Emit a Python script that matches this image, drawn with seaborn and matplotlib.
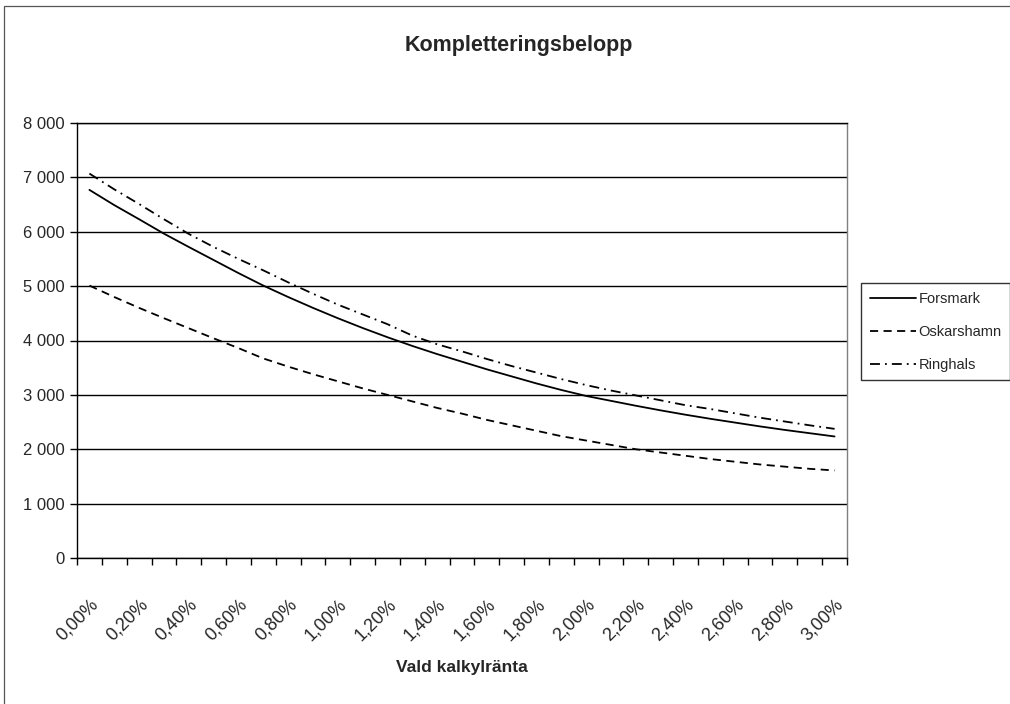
import pandas as pd
import seaborn as sns
import matplotlib.pyplot as plt
from matplotlib.patches import Rectangle
from matplotlib.ticker import FuncFormatter, FixedLocator

# Vald kalkylränta (x categories)
kalkylranta = ["0,00%", "0,10%", "0,20%", "0,30%", "0,40%", "0,50%", "0,60%", "0,70%",
               "0,80%", "0,90%", "1,00%", "1,10%", "1,20%", "1,30%", "1,40%", "1,50%",
               "1,60%", "1,70%", "1,80%", "1,90%", "2,00%", "2,10%", "2,20%", "2,30%",
               "2,40%", "2,50%", "2,60%", "2,70%", "2,80%", "2,90%", "3,00%"]

# Kompletteringsbelopp per plant
forsmark = [6770, 6490, 6230, 5965, 5720, 5480, 5240, 5010, 4800, 4600, 4410,
            4230, 4060, 3900, 3750, 3610, 3470, 3340, 3210, 3090, 2980,
            2890, 2800, 2715, 2635, 2560, 2490, 2420, 2355, 2295, 2235]
oskarshamn = [5010, 4800, 4600, 4410, 4225, 4040, 3860, 3670, 3520, 3380, 3250,
              3120, 3000, 2880, 2760, 2655, 2540, 2440, 2340, 2240, 2160,
              2080, 2000, 1940, 1880, 1820, 1770, 1720, 1680, 1640, 1610]
ringhals = [7070, 6780, 6510, 6230, 5960, 5720, 5500, 5290, 5070, 4860, 4660,
            4480, 4300, 4090, 3930, 3800, 3660, 3530, 3410, 3290, 3180,
            3080, 2990, 2900, 2810, 2740, 2660, 2580, 2510, 2440, 2375]

series = ["Forsmark", "Oskarshamn", "Ringhals"]

df = pd.DataFrame({
    "ranta": kalkylranta * 3,
    "kraftverk": [s for s in series for _ in kalkylranta],
    "belopp": forsmark + oskarshamn + ringhals,
})

sns.set_style("white")
plt.rcParams["font.family"] = ["Liberation Sans", "DejaVu Sans"]

fig = plt.figure(figsize=(10.1, 7.04), dpi=100)
ax = fig.add_axes([77 / 1010, 1 - 558 / 704, 770 / 1010, 435 / 704])

# chart area frame
fig.patches.append(Rectangle((0.004, -0.01), 1.2, 1.001, transform=fig.transFigure,
                             fill=False, edgecolor="#555555", linewidth=0.9, zorder=0))

dashes = {"Forsmark": "", "Oskarshamn": (4.5, 3), "Ringhals": (5.5, 2.8, 1, 2.8)}
sns.lineplot(data=df, x="ranta", y="belopp", style="kraftverk", dashes=dashes,
             color="black", linewidth=1.3, sort=False, legend=False, ax=ax)

ax.set_xlim(-0.5, len(kalkylranta) - 0.5)
ax.set_ylim(0, 8000)

# horizontal gridlines
ax.set_yticks(range(0, 8001, 1000))
ax.yaxis.grid(True, color="black", linewidth=1.0)
ax.set_axisbelow(True)
ax.yaxis.set_major_formatter(FuncFormatter(lambda v, p: f"{int(v):,}".replace(",", " ")))
ax.tick_params(axis="y", direction="out", length=5, width=1, color="black",
               labelsize=12, pad=4, left=True)

# category ticks on boundaries, labels every other category
ax.xaxis.set_minor_locator(FixedLocator([i - 0.5 for i in range(len(kalkylranta) + 1)]))
ax.set_xticks(range(0, len(kalkylranta), 2))
ax.set_xticklabels(kalkylranta[::2], rotation=45, ha="right", va="top",
                   rotation_mode="anchor")
ax.tick_params(axis="x", which="major", length=0, labelsize=13, pad=27)
ax.tick_params(axis="x", which="minor", direction="out", length=5, width=1,
               color="black", bottom=True)

for side in ["left", "bottom", "top"]:
    ax.spines[side].set_color("black")
    ax.spines[side].set_linewidth(1.0)
ax.spines["right"].set_color("#808080")
ax.spines["right"].set_linewidth(1.0)

ax.set_xlabel("Vald kalkylränta", fontsize=12.5, fontweight="bold", labelpad=12)
ax.set_ylabel("")
fig.text(519 / 1010, 1 - 45 / 704, "Kompletteringsbelopp", fontsize=15.5,
         fontweight="bold", ha="center", va="center")

# legend on the right edge
leg = ax.legend(ax.get_lines()[:3], series, loc="upper left",
                bbox_to_anchor=(861 / 1010, 1 - 283 / 704), bbox_transform=fig.transFigure,
                frameon=True, fancybox=False, edgecolor="black", fontsize=10.5,
                handlelength=3.2, handletextpad=0.15, labelspacing=1.3, borderpad=0.6,
                borderaxespad=0)
leg.get_frame().set_linewidth(1.0)

fig.savefig("out.png", dpi=100)
